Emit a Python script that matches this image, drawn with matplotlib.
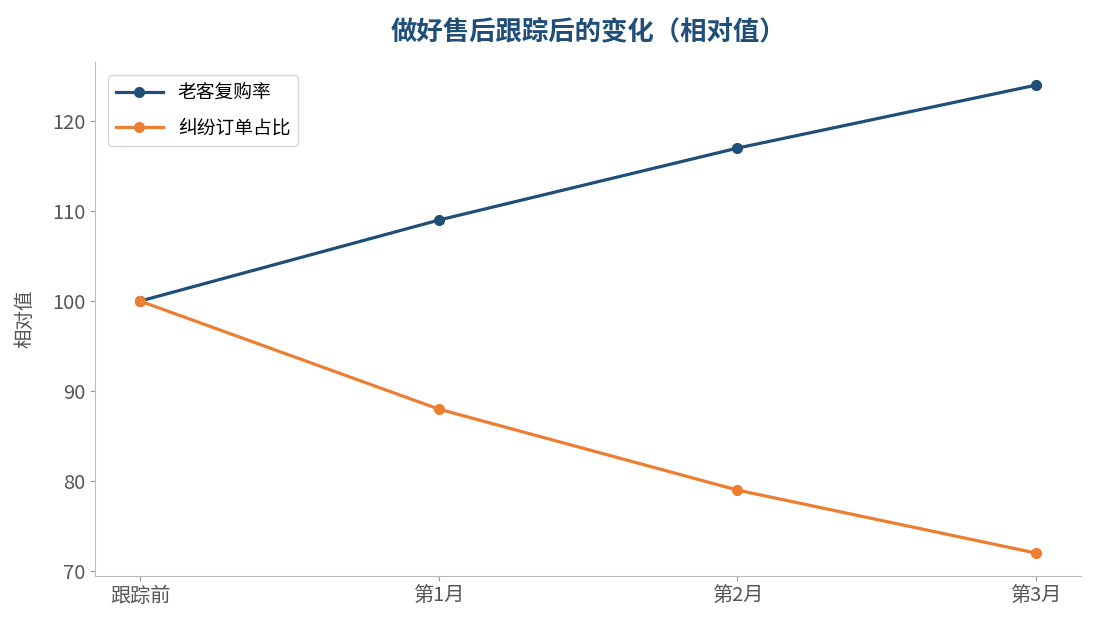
import matplotlib
matplotlib.use("Agg")
import matplotlib.pyplot as plt

plt.rcParams['font.family'] = ['Noto Sans CJK SC', 'DejaVu Sans']

# data
stages = ['跟踪前', '第1月', '第2月', '第3月']
repurchase = [100, 109, 117, 124]
disputes = [100, 88, 79, 72]

blue = '#1f4e79'
orange = '#ed7d31'
grey = '#555555'

fig, ax = plt.subplots(figsize=(10.95, 6.3), dpi=100)
x = range(len(stages))
ax.plot(x, repurchase, color=blue, lw=2.3, marker='o', ms=7, label='老客复购率')
ax.plot(x, disputes, color=orange, lw=2.3, marker='o', ms=7, label='纠纷订单占比')

ax.set_xticks(list(x))
ax.set_xticklabels(stages)
ax.set_ylabel('相对值', color=grey, fontsize=14, labelpad=12)
ax.set_title('做好售后跟踪后的变化（相对值）', color=blue, fontsize=19,
             fontweight='bold', pad=16)
ax.tick_params(colors='#999999', labelcolor=grey, labelsize=14.5)
for s in ['top', 'right']:
    ax.spines[s].set_visible(False)
for s in ['left', 'bottom']:
    ax.spines[s].set_color('#bbbbbb')
ax.legend(loc='upper left', fontsize=13.5, handlelength=2.5,
          labelspacing=0.75, borderaxespad=0.7)

plt.subplots_adjust(left=0.087, right=0.987, top=0.902, bottom=0.085)
fig.savefig('out.png', dpi=100)
